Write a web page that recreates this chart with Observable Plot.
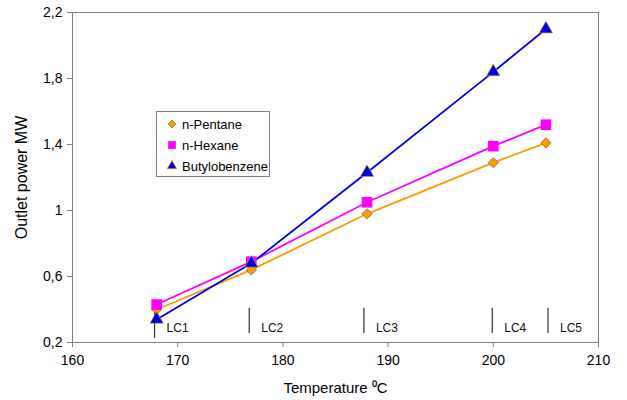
<!DOCTYPE html>
<html><head><meta charset="utf-8">
<script src="https://cdn.jsdelivr.net/npm/d3@7"></script>
<script src="https://cdn.jsdelivr.net/npm/@observablehq/plot@0.6"></script>
<style>
body{margin:0;background:#fff;font-family:"Liberation Sans",Arial,sans-serif;}
#wrap{position:relative;width:627px;height:400px;}
#legend{position:absolute;left:156px;top:111px;width:114px;height:66px;border:1px solid #808080;background:#fff;box-sizing:border-box;font-size:13px;color:#000;}
#legend .row{position:absolute;left:8px;height:16px;display:flex;align-items:center;}
#legend svg{width:14px;height:14px;margin-right:3px;}
</style></head>
<body><div id="wrap"></div>
<script>
const temps = [168, 177, 188, 200, 205];
const pentane = [0.40, 0.64, 0.98, 1.29, 1.41];
const hexane = [0.43, 0.69, 1.05, 1.39, 1.52];
const butylobenzene = [0.34, 0.68, 1.23, 1.84, 2.10];
const seriesNames = ["n-Pentane", "n-Hexane", "Butylobenzene"];
const seriesColors = ["#FF9900", "#FF00FF", "#0000E6"];
const seriesSymbols = ["diamond2", "square", "triangle"];
const seriesOutline = ["#8a6a3a", "#FF00FF", "#c8b400"];
const lcNames = ["LC1", "LC2", "LC3", "LC4", "LC5"];
const lcTemps = [167.8, 176.8, 187.7, 199.9, 205.2];
const lcBottom = [0.225, 0.255, 0.255, 0.255, 0.255];
const lcTop = [0.407, 0.407, 0.407, 0.407, 0.407];
const xTicks = [160, 170, 180, 190, 200, 210];
const yTicks = [0.2, 0.6, 1, 1.4, 1.8, 2.2];

const allValues = [pentane, hexane, butylobenzene];
const data = [];
allValues.forEach((vals, s) => vals.forEach((v, i) => data.push({series: seriesNames[s], t: temps[i], p: v})));
const lc = lcNames.map((n, i) => ({name: n, t: lcTemps[i], y1: lcBottom[i], y2: lcTop[i]}));

const fmt = d => String(d).replace(".", ",");

const chart = Plot.plot({
  width: 627, height: 400,
  marginLeft: 72, marginRight: 29, marginTop: 12, marginBottom: 58,
  style: {fontFamily: '"Liberation Sans", Arial, sans-serif', fontSize: "14px", background: "#fff", color: "#000"},
  x: {domain: [160, 210]},
  y: {domain: [0.2, 2.2]},
  color: {domain: seriesNames, range: seriesColors},
  symbol: {domain: seriesNames, range: seriesSymbols},
  marks: [
    Plot.frame({stroke: "#808080"}),
    Plot.ruleX(lc, {x: "t", y1: "y1", y2: "y2", stroke: "#333", strokeWidth: 1.2}),
    Plot.text(lc, {x: "t", y: 0.285, text: "name", textAnchor: "start", dx: 12, fontSize: 12, fill: "#111"}),
    Plot.line(data, {x: "t", y: "p", z: "series", stroke: "series", strokeWidth: 1.8}),
    Plot.dot(data.filter(d => d.series === "n-Pentane"), {x: "t", y: "p", symbol: "series", fill: "series", r: 4.6, stroke: seriesOutline[0], strokeWidth: 0.8}),
    Plot.dot(data.filter(d => d.series === "n-Hexane"), {x: "t", y: "p", symbol: "series", fill: "series", r: 6.0, stroke: "none"}),
    Plot.dot(data.filter(d => d.series === "Butylobenzene"), {x: "t", y: "p", symbol: "series", fill: "series", r: 5.0, stroke: seriesOutline[2], strokeWidth: 0.6}),
    Plot.axisX({ticks: xTicks, tickSize: 5, tickPadding: 8, stroke: "#808080", fill: "#000", label: null}),
    Plot.axisY({ticks: yTicks, tickFormat: fmt, tickSize: 5, tickPadding: 5, stroke: "#808080", fill: "#000", label: null}),
    Plot.axisX({ticks: [], tickSize: 0, label: "Temperature \u2070C", labelArrow: "none", labelAnchor: "center", labelOffset: 50, fill: "#000", fontSize: 15}),
    Plot.axisY({ticks: [], tickSize: 0, label: "Outlet power MW", labelArrow: "none", labelAnchor: "center", labelOffset: 57, fill: "#000", fontSize: 16}),
    Plot.ruleY([0.2], {stroke: "#808080"}),
    Plot.ruleX([160], {stroke: "#808080"})
  ]
});
const wrap = document.getElementById("wrap");
wrap.appendChild(chart);

const legend = document.createElement("div");
legend.id = "legend";
const syms = {diamond2: d3.symbolDiamond2, square: d3.symbolSquare, triangle: d3.symbolTriangle};
const sizes = [40, 60, 40];
seriesNames.forEach((n, i) => {
  const row = document.createElement("div");
  row.className = "row";
  row.style.top = (4 + i * 21) + "px";
  const path = d3.symbol(syms[seriesSymbols[i]], sizes[i])();
  row.innerHTML = `<svg viewBox="-7 -7 14 14"><path d="${path}" fill="${seriesColors[i]}" stroke="${i===1?'none':seriesOutline[i]}" stroke-width="0.7"/></svg><span>${n}</span>`;
  legend.appendChild(row);
});
wrap.appendChild(legend);
</script></body></html>
